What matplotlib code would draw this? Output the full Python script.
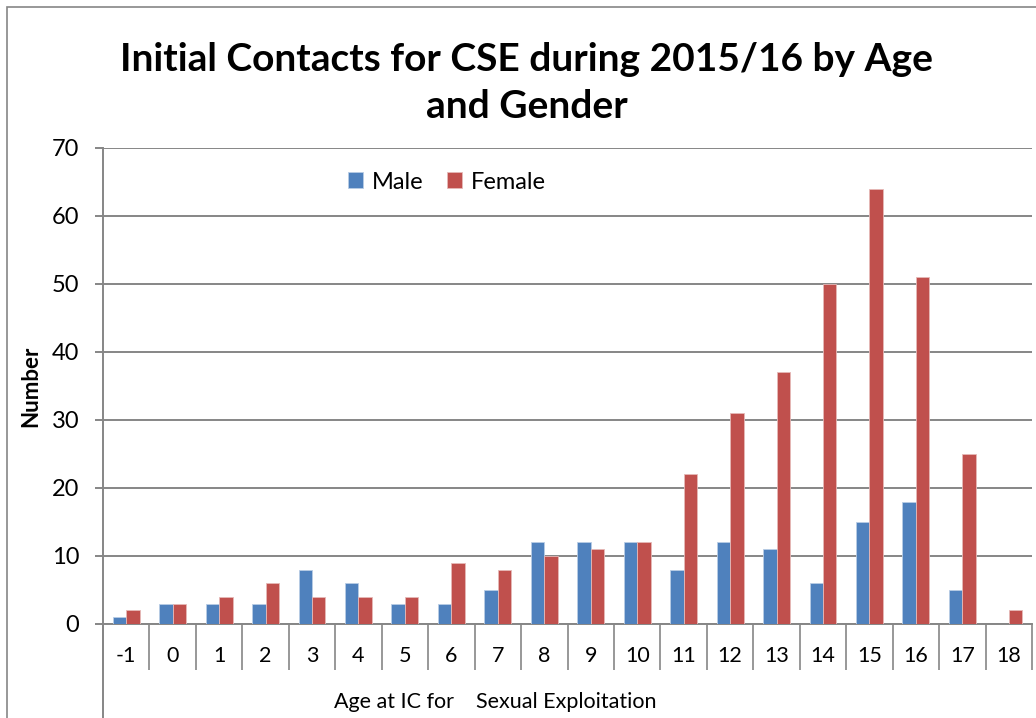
import numpy as np
import matplotlib
matplotlib.use("Agg")
import matplotlib.pyplot as plt
from matplotlib.patches import Rectangle

ages = [str(a) for a in range(-1, 19)]
male = [1, 3, 3, 3, 8, 6, 3, 3, 5, 12, 12, 12, 8, 12, 11, 6, 15, 18, 5, 0]
female = [2, 3, 4, 6, 4, 4, 4, 9, 8, 10, 11, 12, 22, 31, 37, 50, 64, 51, 25, 2]

plt.rcParams['font.family'] = ['Lato', 'DejaVu Sans']
grey = '#868686'

fig = plt.figure(figsize=(10.36, 7.18), dpi=100)
fig.patches.append(Rectangle((7 / 1036, -0.05), 1.1, 1 - 7 / 718 + 0.05,
                             transform=fig.transFigure, fill=False,
                             edgecolor=grey, linewidth=1.2))
ax = fig.add_axes([103 / 1036, 94 / 718, 929 / 1036, 476 / 718])

x = np.arange(len(ages))
w = 0.29
ax.bar(x - w / 2, male, w, color='#4F81BD', edgecolor='#B9CDE5', linewidth=0.6, label='Male', zorder=3)
ax.bar(x + w / 2, female, w, color='#C0504D', edgecolor='#E6B9B8', linewidth=0.6, label='Female', zorder=3)

ax.set_xlim(-0.5, len(ages) - 0.5)
ax.set_ylim(0, 70)
ax.set_yticks(range(0, 71, 10))
ax.yaxis.grid(True, color=grey, linewidth=1.4, zorder=0)
ax.tick_params(axis='y', labelsize=17, length=6, width=1.4, color=grey, pad=11)

# category separators (long ticks) and centered labels
ax.set_xticks(np.arange(-0.5, len(ages), 1.0))
ax.set_xticklabels([])
ax.tick_params(axis='x', which='major', length=33, width=1.2, color=grey, direction='out')
ax.set_xticks(x, minor=True)
ax.set_xticklabels(ages, minor=True)
ax.tick_params(axis='x', which='minor', length=0, labelsize=15.5, pad=16)

for s in ['top', 'right']:
    ax.spines[s].set_visible(False)
for s in ['left', 'bottom']:
    ax.spines[s].set_color(grey)
    ax.spines[s].set_linewidth(1.4)
ax.plot([0, 0], [0, -94 / 476], transform=ax.transAxes, color=grey, linewidth=1.4, clip_on=False)

ax.set_ylabel('Number', fontsize=16, fontweight='bold')
ax.yaxis.set_label_coords(-62 / 929, 0.5)
fig.text(495 / 1036, 16 / 718, 'Age at IC for    Sexual Exploitation', ha='center', va='center', fontsize=15.5)

fig.text(527 / 1036, 1 - 83 / 718, 'Initial Contacts for CSE during 2015/16 by Age\nand Gender',
         ha='center', va='center', fontsize=28, fontweight='bold', linespacing=1.42)

ax.legend(loc='upper center', bbox_to_anchor=(0.37, 0.995), ncol=2, frameon=False,
          fontsize=17, handlelength=0.65, handleheight=0.65, columnspacing=1.0, handletextpad=0.35)

fig.savefig('out.png', dpi=100)
